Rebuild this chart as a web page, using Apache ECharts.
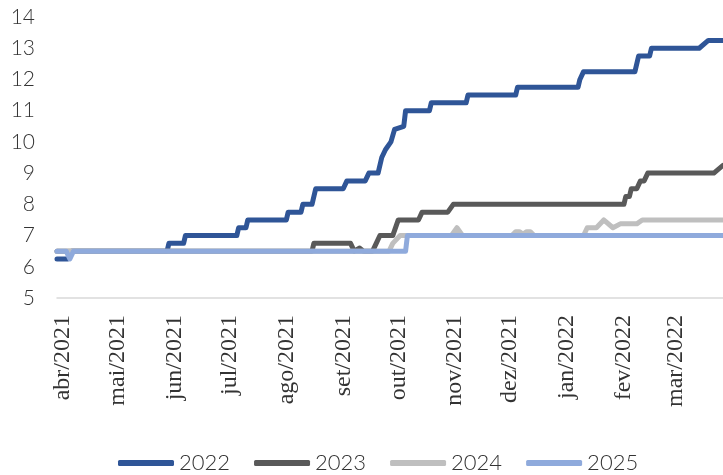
<!DOCTYPE html>
<html>
<head>
<meta charset="utf-8">
<script src="https://cdn.jsdelivr.net/npm/echarts@6/dist/echarts.min.js"></script>
<style>
  html, body { margin: 0; padding: 0; background: #fff; }
  #chart { width: 723px; height: 475px; }
</style>
</head>
<body>
<div id="chart"></div>
<script>
// month ticks on the x axis
const tickDates = ['2021-04-01', '2021-05-01', '2021-06-01', '2021-07-01', '2021-08-01', '2021-09-01',
  '2021-10-01', '2021-11-01', '2021-12-01', '2022-01-01', '2022-02-01', '2022-03-01'];
const tickLabels = ['abr/2021', 'mai/2021', 'jun/2021', 'jul/2021', 'ago/2021', 'set/2021',
  'out/2021', 'nov/2021', 'dez/2021', 'jan/2022', 'fev/2022', 'mar/2022'];

const seriesNames = ['2022', '2023', '2024', '2025'];

// [data, valor]
const s2022 = [
  ['2021-03-29', 6.25], ['2021-04-04', 6.25], ['2021-04-06', 6.5],
  ['2021-05-28', 6.5], ['2021-05-29', 6.75], ['2021-06-06', 6.75], ['2021-06-07', 7.0],
  ['2021-07-05', 7.0], ['2021-07-06', 7.25], ['2021-07-10', 7.25], ['2021-07-11', 7.5],
  ['2021-08-01', 7.5], ['2021-08-02', 7.75], ['2021-08-09', 7.75], ['2021-08-10', 8.0],
  ['2021-08-15', 8.0], ['2021-08-17', 8.5], ['2021-09-01', 8.5], ['2021-09-03', 8.75],
  ['2021-09-13', 8.75], ['2021-09-15', 9.0], ['2021-09-20', 9.0], ['2021-09-22', 9.5],
  ['2021-09-24', 9.75], ['2021-09-27', 10.0], ['2021-09-29', 10.4], ['2021-10-04', 10.5],
  ['2021-10-05', 11.0], ['2021-10-18', 11.0], ['2021-10-19', 11.25], ['2021-11-07', 11.25],
  ['2021-11-08', 11.5], ['2021-12-04', 11.5], ['2021-12-05', 11.75], ['2022-01-07', 11.75],
  ['2022-01-08', 12.0], ['2022-01-10', 12.25], ['2022-02-07', 12.25], ['2022-02-09', 12.75],
  ['2022-02-15', 12.75], ['2022-02-16', 13.0], ['2022-03-14', 13.0], ['2022-03-19', 13.25],
  ['2022-03-27', 13.25]
];
const s2023 = [
  ['2021-03-29', 6.5], ['2021-08-15', 6.5], ['2021-08-16', 6.75], ['2021-09-05', 6.75],
  ['2021-09-07', 6.5], ['2021-09-10', 6.6], ['2021-09-12', 6.5], ['2021-09-17', 6.5],
  ['2021-09-19', 6.75], ['2021-09-21', 7.0], ['2021-09-28', 7.0], ['2021-10-01', 7.5],
  ['2021-10-12', 7.5], ['2021-10-14', 7.75], ['2021-10-28', 7.75], ['2021-10-31', 8.0],
  ['2022-02-01', 8.0], ['2022-02-02', 8.25], ['2022-02-04', 8.25], ['2022-02-05', 8.5],
  ['2022-02-08', 8.5], ['2022-02-10', 8.75], ['2022-02-12', 8.75], ['2022-02-14', 9.0],
  ['2022-03-22', 9.0], ['2022-03-27', 9.25]
];
const s2024 = [
  ['2021-03-29', 6.5], ['2021-09-26', 6.5], ['2021-09-28', 6.75], ['2021-10-02', 7.0],
  ['2021-10-30', 7.0], ['2021-11-02', 7.25], ['2021-11-05', 7.0], ['2021-12-02', 7.0],
  ['2021-12-04', 7.125], ['2021-12-06', 7.125], ['2021-12-08', 7.05], ['2021-12-10', 7.125],
  ['2021-12-12', 7.125], ['2021-12-14', 7.0], ['2022-01-10', 7.0], ['2022-01-12', 7.25],
  ['2022-01-17', 7.25], ['2022-01-21', 7.5], ['2022-01-26', 7.25], ['2022-01-30', 7.375],
  ['2022-02-08', 7.375], ['2022-02-11', 7.5], ['2022-03-27', 7.5]
];
const s2025 = [
  ['2021-03-29', 6.5], ['2021-04-03', 6.5], ['2021-04-05', 6.25], ['2021-04-07', 6.5],
  ['2021-10-05', 6.5], ['2021-10-06', 7.0], ['2022-03-27', 7.0]
];

const colors = ['#2F5597', '#595959', '#BFBFBF', '#8FAADC'];

function toTime(s) {
  const p = s.split('-');
  return new Date(+p[0], +p[1] - 1, +p[2]).getTime();
}
function toPoints(arr) {
  return arr.map(d => [toTime(d[0]), d[1]]);
}

const tickTimes = tickDates.map(toTime);
const font = 'Lato, "Open Sans", sans-serif';

let myChart = echarts.init(document.getElementById('chart'));
let series = [s2022, s2023, s2024, s2025].map((data, i) => {
  return {
    name: seriesNames[i],
    type: 'line',
    data: toPoints(data),
    showSymbol: false,
    symbol: 'none',
    lineStyle: { width: 5, color: colors[i], cap: 'round', join: 'round' },
    itemStyle: { color: colors[i] }
  };
});

let option = {
  animation: false,
  color: colors,
  grid: { left: 57, right: 0, top: 17, bottom: 177 },
  legend: {
    data: seriesNames,
    left: 118,
    top: 452,
    padding: 0,
    icon: 'roundRect',
    itemWidth: 56,
    itemHeight: 6,
    itemGap: 24,
    textStyle: { fontSize: 22, fontWeight: 300, color: '#333', fontFamily: font }
  },
  xAxis: {
    type: 'value',
    min: toTime('2021-03-29'),
    max: toTime('2022-03-27'),
    axisLine: { lineStyle: { color: '#D9D9D9', width: 1.5 } },
    axisTick: { show: false },
    splitLine: { show: false },
    axisLabel: {
      customValues: tickTimes,
      rotate: 90,
      margin: 17,
      fontSize: 24,
      color: '#333',
      fontFamily: '"Liberation Serif", serif',
      formatter: function (val) {
        let idx = tickTimes.indexOf(val);
        return idx >= 0 ? tickLabels[idx] : '';
      }
    }
  },
  yAxis: {
    type: 'value',
    min: 5,
    max: 14,
    interval: 1,
    axisLine: { show: false },
    axisTick: { show: false },
    splitLine: { show: false },
    axisLabel: { fontSize: 21, fontWeight: 300, color: '#333', fontFamily: font, margin: 22 }
  },
  series: series
};

myChart.setOption(option);
</script>
</body>
</html>
